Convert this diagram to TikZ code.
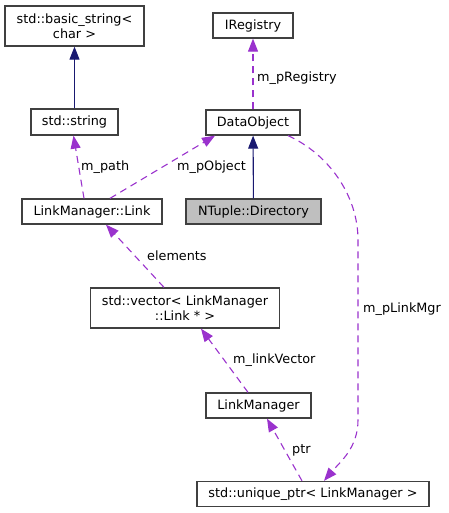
\documentclass[tikz,border=0pt]{standalone}
\usepackage{fontspec}
\setmainfont{DejaVu Sans}
\usetikzlibrary{arrows.meta}
\definecolor{inhcol}{HTML}{191970}
\definecolor{usecol}{HTML}{9A32CD}
\definecolor{boxline}{HTML}{404040}
\definecolor{curcls}{HTML}{BFBFBF}

\begin{document}
\begin{tikzpicture}[x=1pt,y=-1pt,
    cls/.style={draw=boxline, line width=1.3pt, fill=white, inner sep=0pt,
      align=center, font=\fontsize{12.8}{14.5}\selectfont},
    inh/.style={draw=inhcol, line width=1.1pt, -{Triangle[length=13pt,width=10pt]}},
    use/.style={draw=usecol, line width=1.1pt, dash pattern=on 7pt off 5pt,
      -{Triangle[length=13pt,width=10pt]}},
    lbl/.style={anchor=base west, inner sep=0pt, font=\fontsize{12.8}{14.5}\selectfont}]
    \useasboundingbox (0,0) rectangle (448,513);

    % classes
    \node[cls, minimum width=139pt, minimum height=40pt] (bstr) at (74.5,26) {std::basic\_string<\\char >};
    \node[cls, minimum width=87pt, minimum height=26pt] (str) at (74.5,122) {std::string};
    \node[cls, minimum width=80pt, minimum height=25pt] (ireg) at (253,25.5) {IRegistry};
    \node[cls, minimum width=94pt, minimum height=25pt] (dobj) at (253,122.5) {DataObject};
    \node[cls, minimum width=140pt, minimum height=25pt] (link) at (92,211.5) {LinkManager::Link};
    \node[cls, fill=curcls, minimum width=135pt, minimum height=25pt] (dir) at (253.5,211.5) {NTuple::Directory};
    \node[cls, minimum width=189pt, minimum height=40pt] (vec) at (185,308) {std::vector< LinkManager\\::Link * >};
    \node[cls, minimum width=105pt, minimum height=25pt] (lmgr) at (258.5,405.5) {LinkManager};
    \node[cls, minimum width=232pt, minimum height=25pt] (uptr) at (313,494) {std::unique\_ptr< LinkManager >};

    % inheritance
    \draw[inh] (str) -- (bstr);
    \draw[inh] (dir) -- (dobj);

    % usage
    \draw[use] (dobj) -- (ireg);
    \node[lbl] (lreg) at (257,81.5) {m\_pRegistry};
    \draw[use] ([xshift=-8pt]link.north) -- ([xshift=-1pt]str.south);
    \node[lbl] (lpath) at (81,170.5) {m\_path};
    \draw[use] ([xshift=18pt]link.north) -- ([xshift=-38pt]dobj.south);
    \node[lbl] (lobj) at (177,170.5) {m\_pObject};
    \draw[use] ([xshift=-21pt]vec.north) -- ([xshift=14pt]link.south);
    \node[lbl] (lelem) at (147,260.5) {elements};
    \draw[use] ([xshift=-10.5pt]lmgr.north) -- ([xshift=16pt]vec.south);
    \node[lbl] (lvec) at (233,363.5) {m\_linkVector};
    \draw[use] ([xshift=-11pt]uptr.north) -- ([xshift=8.5pt]lmgr.south);
    \node[lbl] (lptr) at (292,453.5) {ptr};
    \coordinate (mgrtop) at (358,240);
    \coordinate (mgrbot) at (358,420);
    \draw[use] ([xshift=35pt]dobj.south) .. controls +(40,18) and (358,195) .. (mgrtop)
      -- (mgrbot) .. controls (358,448) and (340,462) .. ([xshift=11pt]uptr.north);
    \node[lbl] (lmgrp) at (363,312.5) {m\_pLinkMgr};
\end{tikzpicture}
\end{document}
